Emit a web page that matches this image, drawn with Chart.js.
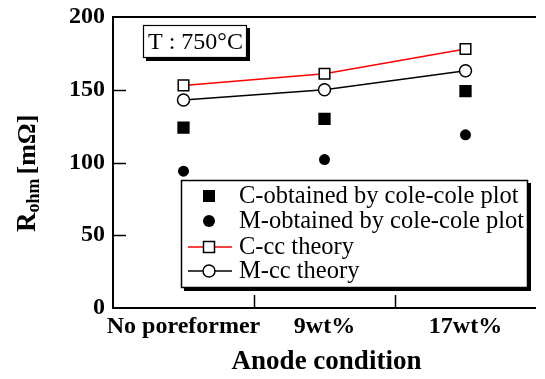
<!DOCTYPE html>
<html>
<head>
<meta charset="utf-8">
<script src="https://cdn.jsdelivr.net/npm/chart.js@4.4.0/dist/chart.umd.min.js"></script>
<style>
  html, body { margin: 0; padding: 0; background: #fff; }
  #wrap { width: 545px; height: 379px; }
</style>
</head>
<body>
<div id="wrap"><canvas id="chart" width="545" height="379"></canvas></div>
<script>
const categories = ['No poreformer', '9wt%', '17wt%'];
const cObtained = [124, 130, 149];
const mObtained = [94, 102, 119];
const cTheory = [153, 161, 178];
const mTheory = [143, 150, 163];
const yTicks = [0, 50, 100, 150, 200];

const SERIF = '"Liberation Serif", "Times New Roman", serif';

// frame, inward ticks, axis titles, temperature box and legend
const decorations = {
    id: 'decorations',
    afterDraw(chart) {
        const ctx = chart.ctx;
        const a = chart.chartArea;
        const x = chart.scales.x;
        const y = chart.scales.y;
        ctx.save();
        ctx.strokeStyle = '#000';
        ctx.lineWidth = 2;
        ctx.beginPath();
        ctx.moveTo(a.right, a.top);
        ctx.lineTo(a.left, a.top);
        ctx.lineTo(a.left, a.bottom);
        ctx.lineTo(a.right, a.bottom);
        ctx.stroke();

        ctx.lineWidth = 1.5;
        ctx.beginPath();
        [50, 100, 150].forEach(v => {
            const py = Math.round(y.getPixelForValue(v)) + 0.5;
            ctx.moveTo(a.left, py);
            ctx.lineTo(a.left + 13, py);
        });
        for (let i = 0; i < categories.length - 1; i++) {
            const px = Math.round((x.getPixelForValue(i) + x.getPixelForValue(i + 1)) / 2) + 0.5;
            ctx.moveTo(px, a.bottom);
            ctx.lineTo(px, a.bottom - 13);
        }
        ctx.stroke();

        // x title
        ctx.fillStyle = '#000';
        ctx.font = 'bold 27px ' + SERIF;
        ctx.textAlign = 'center';
        ctx.textBaseline = 'alphabetic';
        ctx.fillText('Anode condition', (a.left + a.right) / 2 + 2, 369);

        // y title with subscript
        ctx.save();
        ctx.translate(35, 232);
        ctx.rotate(-Math.PI / 2);
        ctx.textAlign = 'left';
        ctx.font = 'bold 27px ' + SERIF;
        ctx.fillText('R', 0, 0);
        let off = ctx.measureText('R').width;
        ctx.font = 'bold 18px ' + SERIF;
        ctx.fillText('ohm', off, 4);
        off += ctx.measureText('ohm').width + 4;
        ctx.font = 'bold 26px ' + SERIF;
        ctx.fillText('[mΩ]', off, 0);
        ctx.restore();

        // temperature box
        ctx.fillStyle = '#000';
        ctx.fillRect(146, 28, 104, 33);
        ctx.fillStyle = '#fff';
        ctx.fillRect(143, 25, 104, 33);
        ctx.lineWidth = 1.2;
        ctx.strokeRect(143.5, 25.5, 103, 32);
        ctx.fillStyle = '#000';
        ctx.font = '24px ' + SERIF;
        ctx.textAlign = 'left';
        ctx.fillText('T : 750°C', 148, 49);

        // legend
        const lx = 181, ly = 180, lw = 347, lh = 108;
        ctx.fillStyle = '#000';
        ctx.fillRect(lx + 3, ly + 3, lw, lh);
        ctx.fillStyle = '#fff';
        ctx.fillRect(lx, ly, lw, lh);
        ctx.lineWidth = 1.5;
        ctx.strokeRect(lx + 0.5, ly + 0.5, lw - 1, lh - 1);

        const rows = [196, 221, 247, 271];
        chart.data.datasets.forEach((ds, i) => {
            const cy = rows[i];
            if (ds.showLine) {
                ctx.strokeStyle = ds.borderColor;
                ctx.lineWidth = 1.5;
                ctx.beginPath();
                ctx.moveTo(188, cy);
                ctx.lineTo(232, cy);
                ctx.stroke();
            }
            ctx.fillStyle = ds.pointBackgroundColor;
            ctx.strokeStyle = '#000';
            ctx.lineWidth = 1.5;
            ctx.beginPath();
            if (ds.pointStyle === 'rect') {
                const h = ds.showLine ? 5.5 : 6;
                ctx.rect(209 - h, cy - h, 2 * h, 2 * h);
            } else {
                ctx.arc(209, cy, 6, 0, Math.PI * 2);
            }
            ctx.fill();
            if (ds.showLine) ctx.stroke();
            ctx.fillStyle = '#000';
            ctx.font = '24.5px ' + SERIF;
            ctx.textBaseline = 'middle';
            ctx.fillText(ds.label, 239, cy + 1);
        });
        ctx.restore();
    }
};

new Chart(document.getElementById('chart').getContext('2d'), {
    type: 'line',
    data: {
        labels: categories,
        datasets: [{
            label: 'C-obtained by cole-cole plot',
            data: cObtained,
            showLine: false,
            pointStyle: 'rect',
            pointRadius: 8.7,
            pointBorderWidth: 0,
            pointBackgroundColor: '#000',
            borderColor: '#000'
        }, {
            label: 'M-obtained by cole-cole plot',
            data: mObtained,
            showLine: false,
            pointStyle: 'circle',
            pointRadius: 5.5,
            pointBorderWidth: 0,
            pointBackgroundColor: '#000',
            borderColor: '#000'
        }, {
            label: 'C-cc theory',
            data: cTheory,
            showLine: true,
            borderColor: '#ff0000',
            borderWidth: 1.5,
            pointStyle: 'rect',
            pointRadius: 7.5,
            pointBorderWidth: 1.5,
            pointBorderColor: '#000',
            pointBackgroundColor: '#fff'
        }, {
            label: 'M-cc theory',
            data: mTheory,
            showLine: true,
            borderColor: '#000',
            borderWidth: 1.5,
            pointStyle: 'circle',
            pointRadius: 6,
            pointBorderWidth: 1.5,
            pointBorderColor: '#000',
            pointBackgroundColor: '#fff'
        }]
    },
    options: {
        responsive: false,
        animation: false,
        layout: { padding: { left: 0, right: 0, top: 17, bottom: 0 } },
        plugins: { legend: { display: false }, tooltip: { enabled: false } },
        scales: {
            x: {
                offset: true,
                grid: { display: false, drawTicks: false },
                border: { display: false },
                ticks: {
                    color: '#000', padding: 4, maxRotation: 0, minRotation: 0, autoSkip: false,
                    font: { family: SERIF, size: 24, weight: 'bold' }
                },
                afterFit: s => { s.height = 71; s.paddingLeft = 0; s.paddingRight = 0; }
            },
            y: {
                min: 0,
                max: 200,
                grid: { display: false, drawTicks: false },
                border: { display: false },
                afterBuildTicks: s => { s.ticks = yTicks.map(v => ({ value: v })); },
                ticks: { color: '#000', padding: 8, font: { family: SERIF, size: 24, weight: 'bold' } },
                afterFit: s => { s.width = 113; s.paddingTop = 0; s.paddingBottom = 0; }
            }
        }
    },
    plugins: [decorations]
});
</script>
</body>
</html>
